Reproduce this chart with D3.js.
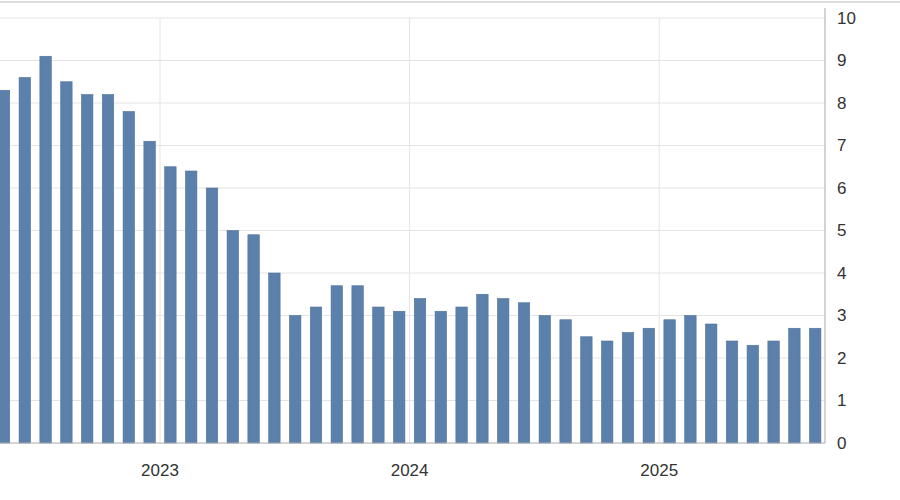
<!DOCTYPE html>
<html><head><meta charset="utf-8">
<script src="https://cdn.jsdelivr.net/npm/d3@7"></script>
<style>body{margin:0;background:#fff}svg{display:block}</style>
</head><body><svg id="chart" width="900" height="500"></svg>
<script>
// monthly values, Apr 2022 .. Jul 2025
const values = [8.3, 8.6, 9.1, 8.5, 8.2, 8.2, 7.8, 7.1, 6.5, 6.4, 6.0, 5.0, 4.9, 4.0,
  3.0, 3.2, 3.7, 3.7, 3.2, 3.1, 3.4, 3.1, 3.2, 3.5, 3.4, 3.3, 3.0, 2.9, 2.5, 2.4,
  2.6, 2.7, 2.9, 3.0, 2.8, 2.4, 2.3, 2.4, 2.7, 2.7]
const yearLabels = ['2023', '2024', '2025']
const yearSlots = [7.5, 19.5, 31.5]
const yTicks = [0, 1, 2, 3, 4, 5, 6, 7, 8, 9, 10]

const svg = d3.select('#chart')
const plotRight = 825, plotBottom = 443, plotTop = 18
const step = 20.8

const x = d3.scaleBand()
  .domain(values.map((d, i) => i))
  .range([4 - step / 2, 4 - step / 2 + step * values.length])
  .paddingInner(0.45).paddingOuter(0.225)
const y = d3.scaleLinear().domain([0, 10]).range([plotBottom, plotTop])
const slotX = s => x(0) + x.bandwidth() / 2 + s * x.step()

svg.append('line').attr('x1', 0).attr('x2', 900).attr('y1', 2).attr('y2', 2)
  .attr('stroke', '#bbb')

// gridlines
svg.append('g').selectAll('line').data(yTicks.slice(1)).join('line')
  .attr('x1', 0).attr('x2', plotRight).attr('y1', d => y(d)).attr('y2', d => y(d))
  .attr('stroke', '#e4e4e4')
svg.append('g').selectAll('line').data(yearSlots).join('line')
  .attr('x1', slotX).attr('x2', slotX)
  .attr('y1', plotTop).attr('y2', plotBottom).attr('stroke', '#e4e4e4')

svg.append('g').selectAll('rect').data(values).join('rect')
  .attr('x', (d, i) => x(i)).attr('width', x.bandwidth())
  .attr('y', d => y(d)).attr('height', d => plotBottom - y(d))
  .attr('fill', '#5b80ab').attr('stroke', '#4f739c').attr('stroke-width', 0.6)

const yAxis = d3.axisRight(y).tickValues(yTicks).tickSize(0).tickPadding(12)
svg.append('g').attr('transform', `translate(${plotRight},0)`).call(yAxis)
  .call(g => g.select('.domain').attr('stroke', '#aaa').attr('d', `M0,${plotTop - 10}V${plotBottom}`))
  .selectAll('text').attr('font-family', 'Liberation Sans, Arial').attr('font-size', 17).attr('fill', '#333')

svg.append('line').attr('x1', 0).attr('x2', plotRight).attr('y1', plotBottom).attr('y2', plotBottom).attr('stroke', '#aaa')

svg.append('g').selectAll('text').data(yearLabels).join('text')
  .attr('x', (d, i) => slotX(yearSlots[i]))
  .attr('y', 476).attr('text-anchor', 'middle')
  .attr('font-family', 'Liberation Sans, Arial').attr('font-size', 17).attr('fill', '#333')
  .text(d => d)
</script></body></html>
